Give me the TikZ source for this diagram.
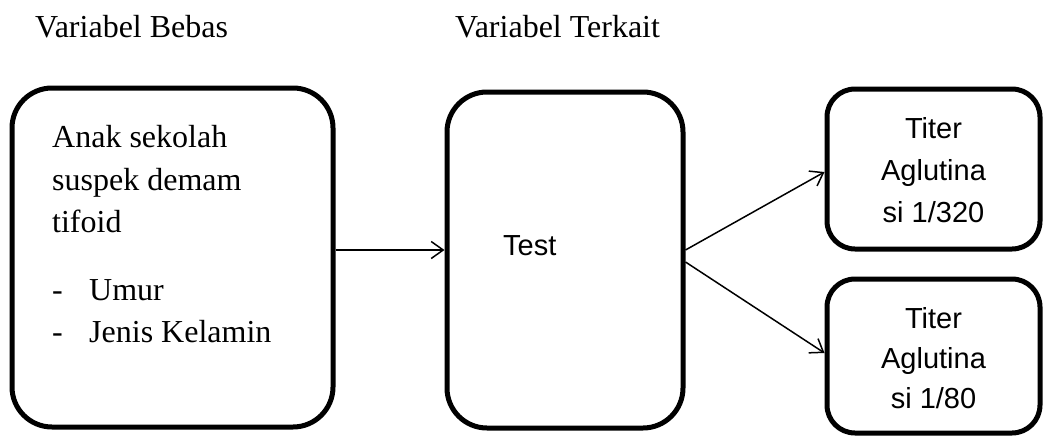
\documentclass[tikz,border=0pt]{standalone}
\usepackage{fontspec}
\setmainfont{Liberation Serif}
\newfontfamily\arialfont{Liberation Sans}
\usetikzlibrary{arrows.meta}
\tikzset{
  box/.style={draw=black, line width=5pt, rounded corners=#1, inner sep=0pt},
  box/.default=40pt,
  link/.style={draw=black, line width=1.5pt, -{Straight Barb[length=12pt,width=17pt,line width=1.5pt]}},
  serif/.style={font=\fontsize{32}{42}\selectfont, inner sep=0pt},
  sans/.style={font=\arialfont\fontsize{29}{42}\selectfont, inner sep=0pt},
}
\begin{document}
\begin{tikzpicture}[x=1pt,y=-1pt]
\useasboundingbox (0,0) rectangle (1044,437);

% headings
\node[serif, anchor=base west] (hbebas) at (35,37) {Variabel Bebas};
\node[serif, anchor=base west] (hterkait) at (455,37) {Variabel Terkait};

% boxes
\node[box, minimum width=321pt, minimum height=339pt] (b1) at (172.5,257.5) {};
\node[box, minimum width=236pt, minimum height=336pt] (b2) at (565,260) {};
\node[box=28pt, minimum width=213pt, minimum height=160pt] (b3) at (933.5,169) {};
\node[box=28pt, minimum width=213pt, minimum height=154pt] (b4) at (933.5,356) {};

% texts of the first box
\node[serif, anchor=base west] (t1) at (52,147) {Anak sekolah};
\node[serif, anchor=base west] (t2) at (52,190) {suspek demam};
\node[serif, anchor=base west] (t3) at (52,232) {tifoid};
\node[serif, anchor=base west] (d1) at (52,300) {-};
\node[serif, anchor=base west] (u1) at (89,300) {Umur};
\node[serif, anchor=base west] (d2) at (52,342) {-};
\node[serif, anchor=base west] (u2) at (89,342) {Jenis Kelamin};

% middle box
\node[sans, anchor=base west] (test) at (503,255) {Test};

% outcome boxes
\node[sans, anchor=base] (r1a) at (933.5,138) {Titer};
\node[sans, anchor=base] (r1b) at (933.5,180) {Aglutina};
\node[sans, anchor=base] (r1c) at (933.5,222) {si 1/320};
\node[sans, anchor=base] (r2a) at (933.5,328) {Titer};
\node[sans, anchor=base] (r2b) at (933.5,368) {Aglutina};
\node[sans, anchor=base] (r2c) at (933.5,408) {si 1/80};

% connectors
\coordinate (m0) at (0,250);
\coordinate (m1) at (0,172);
\coordinate (m2) at (0,262);
\coordinate (m3) at (0,353);
\draw[link] (b1.east |- m0) -- (b2.west |- m0);
\draw[link] (b2.east |- m0) -- (b3.west |- m1);
\draw[link] (b2.east |- m2) -- (b4.west |- m3);
\end{tikzpicture}
\end{document}
